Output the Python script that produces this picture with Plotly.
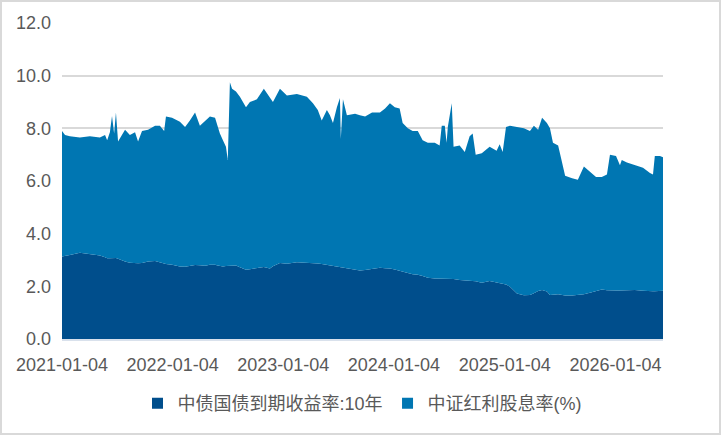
import plotly.graph_objects as go

dates = [
    "2021-01-04", "2021-01-14", "2021-01-30", "2021-03-04", "2021-04-06", "2021-05-09", "2021-05-26",
    "2021-06-02", "2021-06-11", "2021-06-18", "2021-06-25", "2021-07-01", "2021-07-08", "2021-07-31",
    "2021-08-16", "2021-09-02", "2021-09-12", "2021-09-25", "2021-10-15", "2021-11-07", "2021-11-23",
    "2021-12-07", "2021-12-13", "2022-01-02", "2022-01-28", "2022-02-14", "2022-03-02", "2022-03-19",
    "2022-04-04", "2022-04-21", "2022-05-07", "2022-05-24", "2022-06-02", "2022-06-09", "2022-06-19",
    "2022-06-29", "2022-07-05", "2022-07-12", "2022-07-19", "2022-08-01", "2022-08-14", "2022-09-03",
    "2022-09-16", "2022-10-09", "2022-11-01", "2022-11-21", "2022-12-01", "2022-12-24", "2023-01-16",
    "2023-02-18", "2023-03-23", "2023-04-12", "2023-04-28", "2023-05-11", "2023-05-28", "2023-06-07",
    "2023-06-17", "2023-06-30", "2023-07-10", "2023-07-13", "2023-07-20", "2023-08-02", "2023-08-29",
    "2023-09-14", "2023-10-01", "2023-10-24", "2023-11-19", "2023-12-06", "2023-12-22", "2024-01-07",
    "2024-01-23", "2024-02-02", "2024-02-19", "2024-03-06", "2024-03-23", "2024-04-08", "2024-04-25",
    "2024-05-18", "2024-06-03", "2024-06-10", "2024-06-20", "2024-06-26", "2024-06-30", "2024-07-13",
    "2024-07-19", "2024-08-08", "2024-08-25", "2024-09-10", "2024-09-20", "2024-09-30", "2024-10-20",
    "2024-11-15", "2024-12-08", "2024-12-18", "2024-12-28", "2025-01-08", "2025-01-21", "2025-02-13",
    "2025-03-08", "2025-03-28", "2025-04-10", "2025-04-24", "2025-05-07", "2025-05-23", "2025-06-02",
    "2025-06-12", "2025-06-29", "2025-07-08", "2025-07-22", "2025-08-14", "2025-09-02", "2025-09-22",
    "2025-10-12", "2025-11-01", "2025-11-20", "2025-12-07", "2025-12-17", "2026-01-06", "2026-01-19",
    "2026-01-25", "2026-02-11", "2026-03-09", "2026-04-05", "2026-04-28", "2026-05-08", "2026-05-14",
    "2026-05-31", "2026-06-10",
]

bond_10y = [
    3.13, 3.15, 3.19, 3.28, 3.23, 3.17, 3.10,
    3.07, 3.07, 3.08, 3.09, 3.08, 3.05, 2.94,
    2.90, 2.87, 2.88, 2.89, 2.94, 2.96, 2.90,
    2.86, 2.85, 2.82, 2.75, 2.74, 2.78, 2.81,
    2.80, 2.78, 2.82, 2.82, 2.79, 2.77, 2.75,
    2.77, 2.77, 2.78, 2.79, 2.79, 2.72, 2.63,
    2.65, 2.70, 2.73, 2.68, 2.76, 2.89, 2.86,
    2.91, 2.90, 2.88, 2.87, 2.85, 2.82, 2.80,
    2.77, 2.74, 2.73, 2.73, 2.72, 2.70, 2.65,
    2.60, 2.62, 2.66, 2.71, 2.69, 2.68, 2.64,
    2.60, 2.57, 2.51, 2.46, 2.44, 2.39, 2.33,
    2.30, 2.30, 2.30, 2.30, 2.30, 2.30, 2.29,
    2.28, 2.24, 2.23, 2.21, 2.20, 2.19, 2.14,
    2.20, 2.15, 2.13, 2.09, 2.07, 1.98, 1.73,
    1.66, 1.67, 1.74, 1.82, 1.86, 1.80, 1.67,
    1.68, 1.70, 1.68, 1.65, 1.65, 1.67, 1.70,
    1.76, 1.83, 1.88, 1.85, 1.84, 1.84, 1.84,
    1.84, 1.85, 1.86, 1.83, 1.80, 1.81, 1.81,
    1.82, 1.83,
]

dividend_yield = [
    4.77, 4.60, 4.51, 4.37, 4.47, 4.48, 4.65,
    4.48, 4.78, 5.39, 4.71, 5.52, 4.45, 5.01,
    4.85, 4.98, 4.62, 5.01, 5.01, 5.14, 5.20,
    5.04, 5.60, 5.58, 5.50, 5.31, 5.52, 5.79,
    5.30, 5.52, 5.63, 5.58, 5.26, 5.03, 4.80,
    4.53, 4.03, 6.97, 6.71, 6.61, 6.48, 6.17,
    6.35, 6.40, 6.77, 6.47, 6.24, 6.61, 6.39,
    6.39, 6.30, 6.07, 5.83, 5.45, 5.88, 5.70,
    5.43, 6.06, 6.42, 4.87, 6.38, 5.80, 5.90,
    5.90, 5.83, 5.94, 5.89, 6.06, 6.27, 6.16,
    6.15, 5.63, 5.49, 5.44, 5.46, 5.16, 5.12,
    5.15, 5.05, 5.80, 5.80, 5.15, 5.75, 6.66,
    5.02, 5.11, 4.87, 5.49, 5.60, 4.81, 4.91,
    5.10, 5.00, 5.27, 5.01, 5.98, 6.12, 6.32,
    6.34, 6.23, 6.36, 6.13, 6.54, 6.40, 6.33,
    5.77, 5.65, 5.22, 4.55, 4.45, 4.38, 4.85,
    4.59, 4.32, 4.27, 4.40, 5.16, 5.11, 4.76,
    4.96, 4.85, 4.74, 4.67, 4.50, 4.44, 5.14,
    5.13, 5.07,
]

series_names = ["中债国债到期收益率:10年", "中证红利股息率(%)"]
series_colors = ["#004e8c", "#0076b2"]
x_tick_vals = ["2021-01-04", "2022-01-04", "2023-01-04", "2024-01-04", "2025-01-04", "2026-01-04"]
y_tick_vals = [0, 2, 4, 6, 8, 10, 12]
y_tick_text = ["0.0", "2.0", "4.0", "6.0", "8.0", "10.0", "12.0"]

FONT = "Arial, 'Liberation Sans', 'Noto Sans CJK SC', sans-serif"
TXT = "#595959"

fig = go.Figure()
for name, vals, col in zip(series_names, [bond_10y, dividend_yield], series_colors):
    fig.add_trace(go.Scatter(
        x=dates, y=vals, name=name, stackgroup="one", mode="lines",
        line=dict(width=0, color=col), fillcolor=col, showlegend=False,
    ))
for name, col in zip(series_names, series_colors):
    fig.add_trace(go.Scatter(
        x=[None], y=[None], name=name, mode="markers",
        marker=dict(symbol="square", size=11, color=col, line=dict(width=0)),
        showlegend=True,
    ))

W, H = 721, 435
ml, mr, mt, mb = 62, 58, 23, 96
pw, ph = W - ml - mr, H - mt - mb

fig.update_layout(
    width=W, height=H,
    margin=dict(l=ml, r=mr, t=mt, b=mb),
    paper_bgcolor="white", plot_bgcolor="white",
    font=dict(family=FONT, size=18, color=TXT),
    showlegend=True,
    legend=dict(orientation="h", x=0.5, xanchor="center", xref="paper",
                y=-(403.5 - (H - mb)) / ph, yanchor="middle",
                font=dict(size=18, color=TXT), traceorder="normal",
                itemwidth=30, tracegroupgap=0, bgcolor="rgba(0,0,0,0)"),
    xaxis=dict(
        type="date", range=[dates[0], dates[-1]],
        tickvals=x_tick_vals, ticktext=x_tick_vals,
        showgrid=False, zeroline=False,
        showline=True, linecolor="#d9e1ec", linewidth=2,
        ticks="", ticklabelstandoff=8, tickfont=dict(size=18, color=TXT),
    ),
    yaxis=dict(
        range=[0, 12], tickvals=y_tick_vals, ticktext=y_tick_text,
        showgrid=True, gridcolor="#d9d9d9", gridwidth=1.5,
        zeroline=False, showline=False, ticks="", ticklabelstandoff=10,
        tickfont=dict(size=18, color=TXT),
    ),
    shapes=[dict(
        type="rect", xref="paper", yref="paper",
        x0=(1 - ml) / pw, x1=(W - 1 - ml) / pw,
        y0=-(H - 1 - mt - ph) / ph, y1=1 + (mt - 1) / ph,
        line=dict(color="#d9d9d9", width=2), fillcolor="rgba(0,0,0,0)", layer="above",
    )],
)

fig.write_html("out.html")
